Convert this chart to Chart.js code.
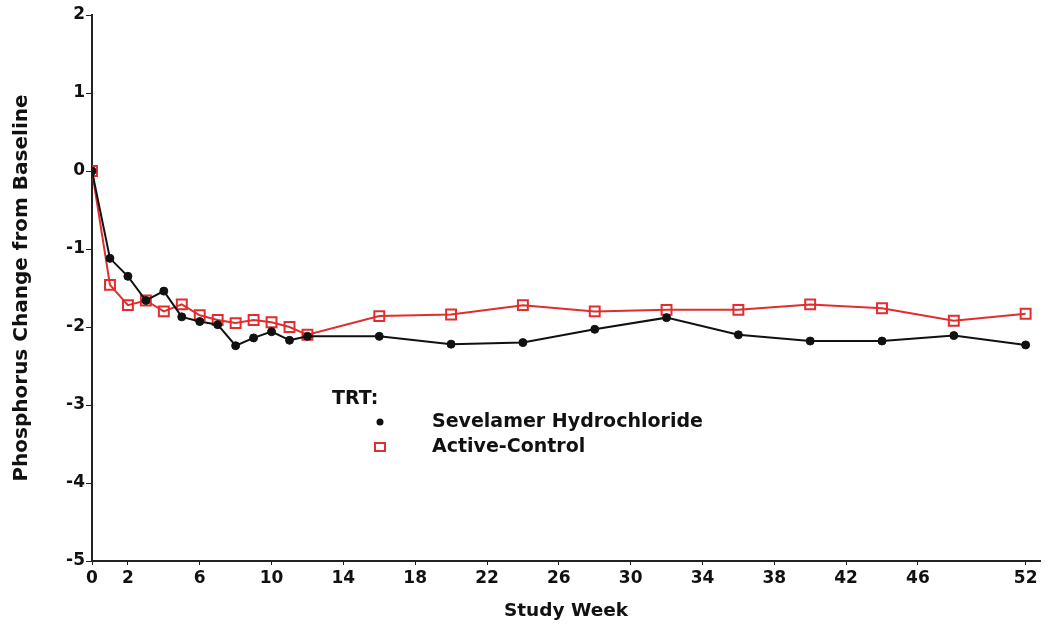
<!DOCTYPE html>
<html>
<head>
<meta charset="utf-8">
<script src="https://cdn.jsdelivr.net/npm/chart.js@4"></script>
<style>
  html, body { margin: 0; padding: 0; background: #fff; }
  #wrap { width: 1049px; height: 627px; }
</style>
</head>
<body>
<div id="wrap"><canvas id="phos"></canvas></div>
<script>
// weeks and mean change from baseline
const weeks = [0, 1, 2, 3, 4, 5, 6, 7, 8, 9, 10, 11, 12, 16, 20, 24, 28, 32, 36, 40, 44, 48, 52];
const sevelamer = [0, -1.12, -1.35, -1.66, -1.54, -1.87, -1.93, -1.97, -2.24, -2.14, -2.06, -2.17, -2.12,
                   -2.12, -2.22, -2.20, -2.03, -1.88, -2.10, -2.18, -2.18, -2.11, -2.23];
const activeControl = [0, -1.46, -1.72, -1.66, -1.80, -1.71, -1.85, -1.91, -1.95, -1.91, -1.94, -2.00, -2.10,
                       -1.86, -1.84, -1.72, -1.80, -1.78, -1.78, -1.71, -1.76, -1.92, -1.83];
const xTicks = [0, 2, 6, 10, 14, 18, 22, 26, 30, 34, 38, 42, 46, 52];
const yTicks = [2, 1, 0, -1, -2, -3, -4, -5];

const FONT = "'DejaVu Sans', sans-serif";
const RED = 'rgb(225,45,45)';

const toXY = vals => vals.map((v, i) => ({ x: weeks[i], y: v }));

// legend drawn inside the plot like the SAS output
const trtLegend = {
    id: 'trtLegend',
    afterDatasetsDraw(chart) {
        const ctx = chart.ctx;
        ctx.save();
        ctx.fillStyle = '#111';
        ctx.textBaseline = 'middle';
        ctx.font = 'bold 19px ' + FONT;
        ctx.fillText('TRT:', 332, 399);
        chart.data.datasets.forEach((ds, i) => {
            const y = 422 + i * 25;
            ctx.beginPath();
            if (ds.pointStyle === 'circle') {
                ctx.fillStyle = ds.borderColor;
                ctx.arc(380, y, 3.5, 0, Math.PI * 2);
                ctx.fill();
            } else {
                ctx.strokeStyle = ds.borderColor;
                ctx.lineWidth = 2;
                ctx.rect(375, y - 4, 10, 8);
                ctx.stroke();
            }
            ctx.fillStyle = '#111';
            ctx.fillText(ds.label, 432, y);
        });
        ctx.restore();
    }
};

new Chart(document.getElementById('phos'), {
    type: 'line',
    data: {
        datasets: [{
            label: 'Sevelamer Hydrochloride',
            data: toXY(sevelamer),
            borderColor: '#111',
            backgroundColor: '#111',
            pointBackgroundColor: '#111',
            borderWidth: 2,
            pointStyle: 'circle',
            pointRadius: 4,
            pointBorderWidth: 1,
            tension: 0
        }, {
            label: 'Active-Control',
            data: toXY(activeControl),
            borderColor: RED,
            backgroundColor: 'rgba(0,0,0,0)',
            pointBackgroundColor: 'rgba(0,0,0,0)',
            borderWidth: 2,
            pointStyle: 'rect',
            pointRadius: 7,
            pointBorderWidth: 2,
            tension: 0
        }]
    },
    options: {
        responsive: true,
        maintainAspectRatio: false,
        animation: false,
        layout: {
            padding: { left: 0, top: 15, right: 4, bottom: 0 }
        },
        scales: {
            x: {
                type: 'linear',
                min: 0,
                max: 52.8,
                afterBuildTicks: scale => {
                    scale.ticks = xTicks.map(v => ({ value: v }));
                },
                afterFit: scale => { scale.height = 66; },
                grid: {
                    drawOnChartArea: false,
                    color: '#222',
                    tickLength: 4
                },
                border: { color: '#222', width: 2 },
                ticks: {
                    color: '#111',
                    padding: 3,
                    maxRotation: 0,
                    autoSkip: false,
                    font: { family: FONT, size: 17, weight: 'bold' }
                },
                title: {
                    display: true,
                    text: 'Study Week',
                    color: '#111',
                    padding: { top: 0, bottom: 5 },
                    font: { family: FONT, size: 18.5, weight: 'bold' }
                }
            },
            y: {
                min: -5,
                max: 2,
                afterBuildTicks: scale => {
                    scale.ticks = yTicks.map(v => ({ value: v }));
                },
                afterFit: scale => { scale.width = 92; },
                grid: {
                    drawOnChartArea: false,
                    color: '#222',
                    tickLength: 6
                },
                border: { color: '#222', width: 2 },
                ticks: {
                    color: '#111',
                    padding: 1,
                    font: { family: FONT, size: 17, weight: 'bold' }
                },
                title: {
                    display: true,
                    text: 'Phosphorus Change from Baseline',
                    color: '#111',
                    padding: { top: 10, bottom: 0 },
                    font: { family: FONT, size: 20, weight: 'bold' }
                }
            }
        },
        plugins: {
            legend: { display: false },
            tooltip: { enabled: false }
        }
    },
    plugins: [trtLegend]
});
</script>
</body>
</html>
